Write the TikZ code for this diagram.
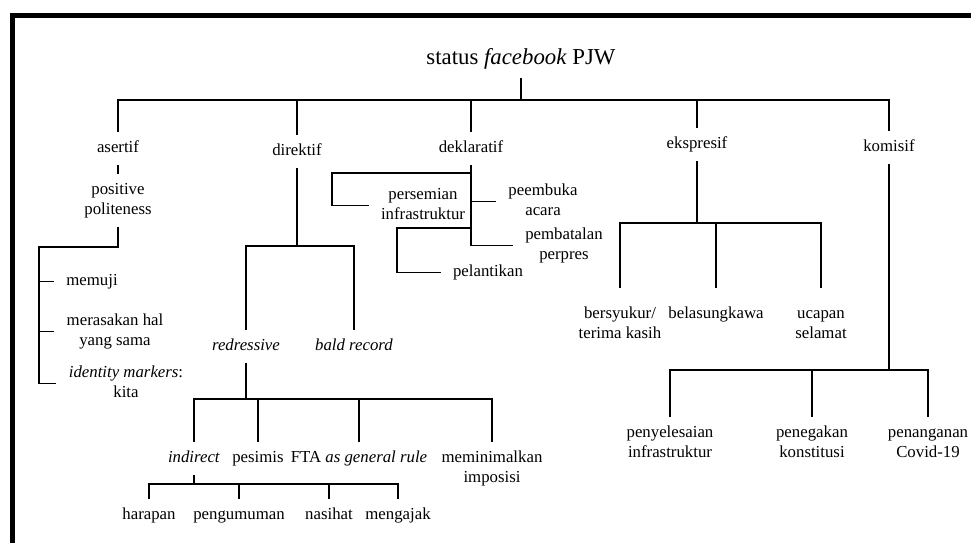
\documentclass[tikz,border=0pt]{standalone}
\usepackage{fontspec}
\setmainfont{Liberation Serif}
\begin{document}
\begin{tikzpicture}[
    x=0.5pt, y=-0.5pt,
    font=\fontsize{8.4}{10}\selectfont,
    simpul/.style={anchor=north, align=center, inner xsep=2pt, inner ysep=3pt,
      execute at begin node=\strut, execute at end node=\strut},
    daun/.style={simpul, inner xsep=6pt},
    garis/.style={line width=0.8pt},
    bingkai/.style={line width=2.5pt}
  ]
  \useasboundingbox (0,0) rectangle (971,543);
  \draw[bingkai] (12.5,543) -- (12.5,15.5) -- (971,15.5);

  \node[anchor=base, inner sep=0pt, inner ysep=7pt, text depth=0pt, font=\fontsize{11.4}{13}\selectfont] (status) at (521,64) {status \textit{facebook} PJW};

  \node[simpul] (asertif) at (118,132) {asertif};
  \node[simpul] (direktif) at (297,135) {direktif};
  \node[simpul] (deklaratif) at (471,132) {deklaratif};
  \node[simpul] (ekspresif) at (697,128) {ekspresif};
  \node[simpul] (komisif) at (889,131) {komisif};

  \node[simpul] (positive) at (118,174) {\strut positive\\politeness};
  \node[daun] (memuji) at (92,265) {memuji};
  \node[daun] (merasakan) at (115,305) {\strut merasakan hal\\yang sama};
  \node[daun] (identity) at (126,357) {\strut\textit{identity markers}:\\kita};

  \node[simpul] (redressive) at (246,330) {\textit{redressive}};
  \node[simpul] (bald) at (354,330) {\textit{bald record}};
  \node[simpul] (indirect) at (194,442) {\textit{indirect}};
  \node[simpul] (pesimis) at (258,442) {pesimis};
  \node[simpul] (fta) at (359,442) {FTA \textit{as general rule}};
  \node[simpul] (imposisi) at (492,442) {\strut meminimalkan\\imposisi};
  \node[simpul] (harapan) at (149,499) {harapan};
  \node[simpul] (pengumuman) at (239,499) {pengumuman};
  \node[simpul] (nasihat) at (329,499) {nasihat};
  \node[simpul] (mengajak) at (398,499) {mengajak};

  \node[daun] (persemian) at (423,179) {\strut persemian\\infrastruktur};
  \node[daun] (peembuka) at (543,175) {\strut peembuka\\acara};
  \node[daun] (pembatalan) at (564,219) {\strut pembatalan\\perpres};
  \node[daun] (pelantikan) at (488,256) {pelantikan};

  \node[simpul] (bersyukur) at (620,298) {\strut bersyukur/\\terima kasih};
  \node[simpul] (belasungkawa) at (716,298) {belasungkawa};
  \node[simpul] (ucapan) at (821,298) {\strut ucapan\\selamat};

  \node[simpul] (penyelesaian) at (670,417) {\strut penyelesaian\\infrastruktur};
  \node[simpul] (penegakan) at (812,417) {\strut penegakan\\konstitusi};
  \node[simpul] (penanganan) at (928,417) {\strut penanganan\\Covid-19};

  \coordinate (barUtama) at (0,100);
  \draw[garis] (status.south) -- (status.south |- barUtama);
  \draw[garis] (asertif.north) |- (barUtama -| komisif.north) -- (komisif.north);
  \foreach \n in {direktif,deklaratif,ekspresif}
    \draw[garis] (\n.north) -- (\n.north |- barUtama);

  \draw[garis] (asertif.south) -- (positive.north);
  \coordinate (lututA) at (39,247);
  \draw[garis] (positive.south) |- (lututA) |- (identity.west);
  \foreach \n in {memuji,merasakan}
    \draw[garis] (\n.west) -- (\n.west -| lututA);

  \coordinate (barD) at (0,246);
  \draw[garis] (direktif.south) -- (direktif.south |- barD);
  \draw[garis] (redressive.north) |- (barD -| bald.north) -- (bald.north);

  \coordinate (barR) at (0,399);
  \draw[garis] (redressive.south) -- (redressive.south |- barR);
  \draw[garis] (indirect.north) |- (barR -| imposisi.north) -- (imposisi.north);
  \foreach \n in {pesimis,fta}
    \draw[garis] (\n.north) -- (\n.north |- barR);

  \coordinate (barI) at (0,484);
  \draw[garis] (indirect.south) -- (indirect.south |- barI);
  \draw[garis] (harapan.north) |- (barI -| mengajak.north) -- (mengajak.north);
  \foreach \n in {pengumuman,nasihat}
    \draw[garis] (\n.north) -- (\n.north |- barI);

  \draw[garis] (deklaratif.south) |- (pembatalan.west);
  \draw[garis] (peembuka.west) -- (peembuka.west -| deklaratif.south);
  \coordinate (lututP) at (332,173);
  \draw[garis] (persemian.west) -| (lututP) -- (lututP -| deklaratif.south);
  \coordinate (lututL) at (397,228);
  \draw[garis] (pelantikan.west) -| (lututL) -- (lututL -| deklaratif.south);

  \coordinate (barE) at (0,223);
  \draw[garis] (ekspresif.south) -- (ekspresif.south |- barE);
  \draw[garis, shorten <=5pt, shorten >=5pt] (bersyukur.north) |- (barE -| ucapan.north) -- (ucapan.north);
  \draw[garis, shorten <=5pt] (belasungkawa.north) -- (belasungkawa.north |- barE);

  \coordinate (barK) at (0,370);
  \draw[garis] (komisif.south) -- (komisif.south |- barK);
  \draw[garis] (penyelesaian.north) |- (barK -| penanganan.north) -- (penanganan.north);
  \draw[garis] (penegakan.north) -- (penegakan.north |- barK);
\end{tikzpicture}
\end{document}
